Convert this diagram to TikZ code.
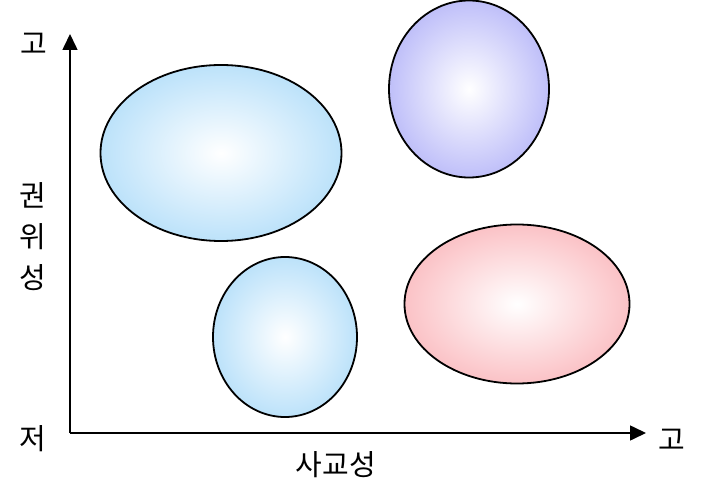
\documentclass[tikz,border=0pt]{standalone}
\usepackage{fontspec}
\newfontfamily\kofont{Noto Sans CJK KR}
\usetikzlibrary{arrows.meta,shapes.geometric}
\definecolor{SkyBlue}{HTML}{BCE2FA}
\definecolor{Lavender}{HTML}{BFBFF9}
\definecolor{Blush}{HTML}{FBC2C6}

\begin{document}
\begin{tikzpicture}[x=1pt,y=-1pt,
  blob/.style={ellipse,draw=black,line width=1.8pt,inner sep=0pt,shading=radial,inner color=white},
  lbl/.style={inner sep=0pt,font=\kofont\fontsize{29}{41}\selectfont,align=center},
  axis/.style={line width=1.6pt,-{Triangle[length=16pt,width=15pt]}}
]
  \path[use as bounding box] (0,0) rectangle (704,481);

  % quadrant groups
  \node[blob,outer color=SkyBlue,minimum width=241pt,minimum height=176pt] (topleft) at (221,153) {};
  \node[blob,outer color=Lavender,minimum width=160pt,minimum height=177pt] (topright) at (469,89) {};
  \node[blob,outer color=SkyBlue,minimum width=144pt,minimum height=160pt] (bottommid) at (285,337) {};
  \node[blob,outer color=Blush,minimum width=225pt,minimum height=159pt] (bottomright) at (517,304) {};

  % axes
  \coordinate (origin) at (70,433);
  \coordinate (ytip) at (70,34);
  \coordinate (xtip) at (646,433);
  \draw[axis] (origin) -- (ytip);
  \draw[axis] (origin) -- (xtip);

  % axis labels
  \node[lbl] (yhigh) at (34,44) {고};
  \node[lbl] (ylow) at (33,439) {저};
  \node[lbl] (xhigh) at (672,440) {고};
  \node[lbl] (yname) at (33,237) {권\\위\\성};
  \node[lbl] (xname) at (336,465) {사교성};
\end{tikzpicture}
\end{document}
